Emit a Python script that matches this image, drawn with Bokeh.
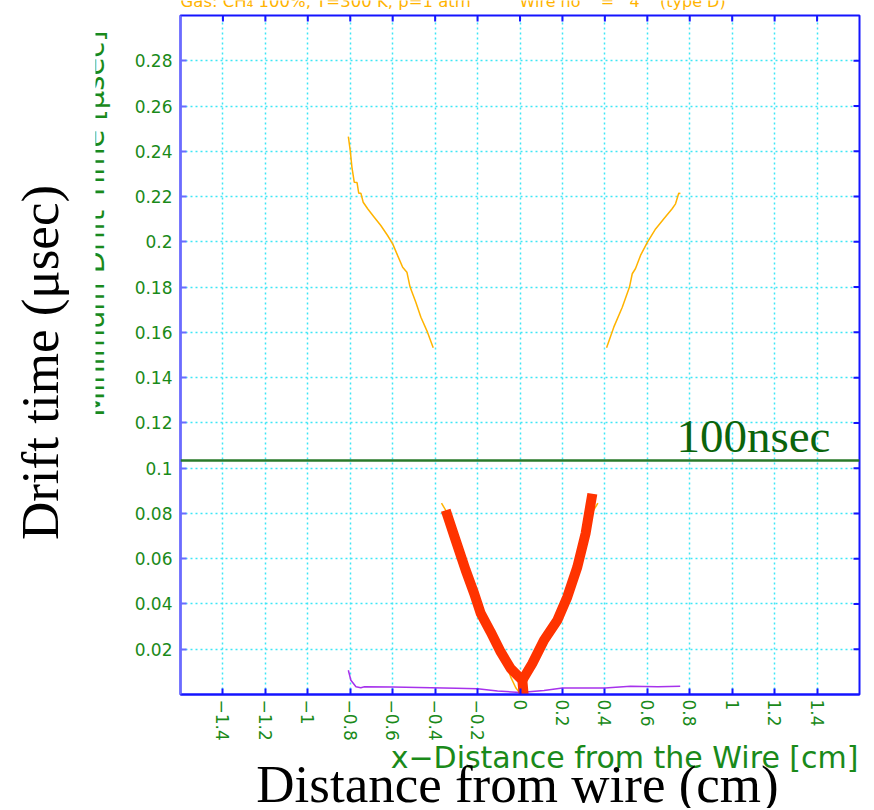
import math
from bokeh.plotting import figure
from bokeh.layouts import row, column
from bokeh.models import Label, FixedTicker, Range1d, Span
from bokeh.embed import file_html
from bokeh.resources import INLINE

# ---------------- data ----------------
x_ticks = [-1.4, -1.2, -1.0, -0.8, -0.6, -0.4, -0.2, 0.0, 0.2, 0.4, 0.6, 0.8, 1.0, 1.2, 1.4]
x_tick_labels = ["−1.4", "−1.2", "−1", "−0.8", "−0.6", "−0.4", "−0.2", "0",
                 "0.2", "0.4", "0.6", "0.8", "1", "1.2", "1.4"]
y_ticks = [0.02, 0.04, 0.06, 0.08, 0.10, 0.12, 0.14, 0.16, 0.18, 0.20, 0.22, 0.24, 0.26, 0.28]
y_tick_labels = ["0.02", "0.04", "0.06", "0.08", "0.1", "0.12", "0.14", "0.16", "0.18",
                 "0.2", "0.22", "0.24", "0.26", "0.28"]
x_min, x_max = -1.6, 1.6
y_min, y_max = 0.0, 0.3

# orange curves (upper, far from wire)
orange_left_x = [-0.809, -0.800, -0.792, -0.781, -0.768, -0.760, -0.750, -0.739, -0.718, -0.687,
                 -0.656, -0.624, -0.600, -0.577, -0.553, -0.533, -0.518, -0.491, -0.467, -0.436, -0.409]
orange_left_y = [0.2465, 0.2403, 0.2329, 0.2263, 0.2262, 0.2215, 0.2215, 0.2175, 0.2146, 0.2109,
                 0.2072, 0.2028, 0.1991, 0.1940, 0.1888, 0.1866, 0.1800, 0.1733, 0.1667, 0.1601, 0.1532]
orange_right_x = [0.408, 0.442, 0.482, 0.516, 0.529, 0.544, 0.568, 0.600, 0.639, 0.678,
                  0.717, 0.733, 0.748, 0.756]
orange_right_y = [0.1532, 0.1623, 0.1711, 0.1800, 0.1859, 0.1881, 0.1940, 0.1998, 0.2057, 0.2102,
                  0.2146, 0.2168, 0.2215, 0.2214]

# orange curve near the wire (under the red one)
orange_low_x = [-0.370, -0.350, -0.303, -0.256, -0.216, -0.185, -0.138, -0.091, -0.060, -0.044,
                -0.020, 0.000, 0.030, 0.058, 0.113, 0.176, 0.223, 0.270, 0.309, 0.338, 0.367]
orange_low_y = [0.0846, 0.0814, 0.0681, 0.0549, 0.0446, 0.0358, 0.0276, 0.0188, 0.0120, 0.0078,
                0.0030, 0.0005, 0.0060, 0.0137, 0.0240, 0.0328, 0.0431, 0.0563, 0.0711, 0.0800, 0.0846]

# red highlighted curve (two branches)
red_left_x = [-0.350, -0.303, -0.256, -0.216, -0.185, -0.138, -0.091, -0.044, 0.011, 0.019]
red_left_y = [0.0814, 0.0681, 0.0549, 0.0446, 0.0358, 0.0276, 0.0188, 0.0115, 0.0063, -0.0020]
red_right_x = [0.011, 0.058, 0.113, 0.176, 0.223, 0.270, 0.309, 0.333, 0.341]
red_right_y = [0.0063, 0.0137, 0.0240, 0.0328, 0.0431, 0.0563, 0.0711, 0.0843, 0.0887]

# purple curve (minimum drift time near zero)
purple_x = [-0.809, -0.797, -0.773, -0.750, -0.733, -0.600, -0.420, -0.300, -0.200, -0.106,
            0.000, 0.113, 0.200, 0.400, 0.521, 0.650, 0.755]
purple_y = [0.0107, 0.0063, 0.0034, 0.0030, 0.0034, 0.0033, 0.0030, 0.0028, 0.0025, 0.0015,
            0.0009, 0.0018, 0.0029, 0.0029, 0.0036, 0.0034, 0.0036]

threshold_y = 0.1034
threshold_text = "100nsec"

NB = "\u00a0"
title_left = "Gas: CH₄ 100%, T=300 K, p=1 atm"
title_right = "Wire no" + NB * 4 + "=" + NB * 3 + "4" + NB * 4 + "(type D)"

# ---------------- styles ----------------
GREEN = "#1a8a1a"
BLUE = "#1414ff"
BLUE_LIGHT = "#6b6bff"
GRID = "#3fe6f5"
ORANGE = "#ffb300"
RED = "#ff3300"
PURPLE = "#a632ec"
DKGREEN = "#0b640b"
SANS = "DejaVu Sans"
SERIF = "Liberation Serif"
TICK_Y_LEN = 0.00265   # ~6 px in y data units
TICK_X_LEN = 0.0283    # ~6 px in x data units


def strip(w, h):
    f = figure(width=w, height=h, output_backend="svg", toolbar_location=None,
               x_axis_location=None, y_axis_location=None, min_border=0,
               x_range=Range1d(0, 1), y_range=Range1d(0, 1))
    f.outline_line_color = None
    f.grid.visible = False
    f.background_fill_color = "white"
    f.border_fill_color = "white"
    return f


# ---------------- main plot ----------------
p = figure(width=748, height=729, x_range=Range1d(x_min, x_max), y_range=Range1d(y_min, y_max),
           output_backend="svg", toolbar_location=None,
           min_border_left=55, min_border_right=14, min_border_top=1, min_border_bottom=49)
p.outline_line_color = BLUE
p.outline_line_width = 2
p.background_fill_color = "white"
p.border_fill_color = "white"

xa = p.xaxis[0]
ya = p.yaxis[0]
xa.ticker = FixedTicker(ticks=x_ticks)
ya.ticker = FixedTicker(ticks=y_ticks)
xa.major_label_overrides = dict(zip(x_ticks, x_tick_labels))
ya.major_label_overrides = dict(zip(y_ticks, y_tick_labels))
xa.major_label_orientation = -math.pi / 2
for ax in (xa, ya):
    ax.axis_line_width = 2
    ax.major_tick_in = 6
    ax.major_tick_out = 0
    ax.major_tick_line_width = 2
    ax.minor_tick_line_color = None
    ax.major_label_text_color = GREEN
    ax.major_label_text_font = SANS
    ax.major_label_text_font_size = "17px"
    ax.major_label_text_font_style = "normal"
xa.axis_line_color = BLUE
xa.major_tick_line_color = BLUE
xa.major_label_standoff = 5
ya.axis_line_color = BLUE_LIGHT
ya.major_tick_line_color = BLUE_LIGHT
ya.major_label_standoff = 8

p.xgrid.ticker = FixedTicker(ticks=x_ticks)
p.ygrid.ticker = FixedTicker(ticks=y_ticks)
for g in (p.xgrid[0], p.ygrid[0]):
    g.grid_line_color = GRID
    g.grid_line_dash = "2 3"
    g.grid_line_width = 1.5

# inward ticks on top and right frame edges
p.segment(x0=x_ticks, y0=[y_max] * len(x_ticks), x1=x_ticks, y1=[y_max - TICK_Y_LEN] * len(x_ticks),
          line_color=BLUE, line_width=2)
p.segment(x0=[x_max] * len(y_ticks), y0=y_ticks, x1=[x_max - TICK_X_LEN] * len(y_ticks), y1=y_ticks,
          line_color=BLUE, line_width=2)

# curves
p.line(orange_left_x, orange_left_y, line_color=ORANGE, line_width=1.5)
p.line(orange_right_x, orange_right_y, line_color=ORANGE, line_width=1.5)
p.line(orange_low_x, orange_low_y, line_color=ORANGE, line_width=1.5)
p.line(purple_x, purple_y, line_color=PURPLE, line_width=1.5)
p.multi_line([red_left_x, red_right_x], [red_left_y, red_right_y], line_color=RED, line_width=10,
             line_join="round")

p.add_layout(Span(location=threshold_y, dimension="width", line_color="#2a7a2a", line_width=2.5))
p.add_layout(Label(x=0.737, y=0.1140, text=threshold_text, text_color=DKGREEN,
                   text_font=SERIF, text_font_size="47px", text_baseline="middle"))

# ---------------- text strips (frames aligned with the main frame in the column) ----------------
top = strip(748, 14)
top.add_layout(Label(x=0, y=13.5, x_units="screen", y_units="screen",
                     text=title_left, text_color=ORANGE, text_font=SANS,
                     text_font_size="16.5px", text_baseline="middle"))
top.add_layout(Label(x=339, y=13.5, x_units="screen", y_units="screen",
                     text=title_right, text_color=ORANGE, text_font=SANS,
                     text_font_size="16px", text_baseline="middle"))

bottom = strip(748, 65)
bottom.add_layout(Label(x=678, y=51, x_units="screen", y_units="screen",
                        text="x−Distance from the Wire [cm]", text_color=GREEN, text_font=SANS,
                        text_font_size="30px", text_align="right", text_baseline="middle"))
bottom.add_layout(Label(x=337, y=24.5, x_units="screen", y_units="screen",
                        text="Distance from wire (cm)", text_color="black", text_font=SERIF,
                        text_font_size="53px", text_align="center", text_baseline="middle"))

ytitle = strip(30, 808)
ytitle.add_layout(Label(x=-1.5, y=778, x_units="screen", y_units="screen", angle=math.pi / 2,
                        text="Minimum Drift Time [μsec]", text_color=GREEN, text_font=SANS,
                        text_font_size="29px", text_align="right", text_baseline="middle"))

left = strip(95, 808)
left.add_layout(Label(x=39, y=446, x_units="screen", y_units="screen", angle=math.pi / 2,
                      text="Drift time (μsec)", text_color="black", text_font=SERIF,
                      text_font_size="53px", text_align="center", text_baseline="middle"))

layout = row(left, ytitle, column(top, p, bottom))
open("out.html", "w").write(file_html(layout, INLINE))
